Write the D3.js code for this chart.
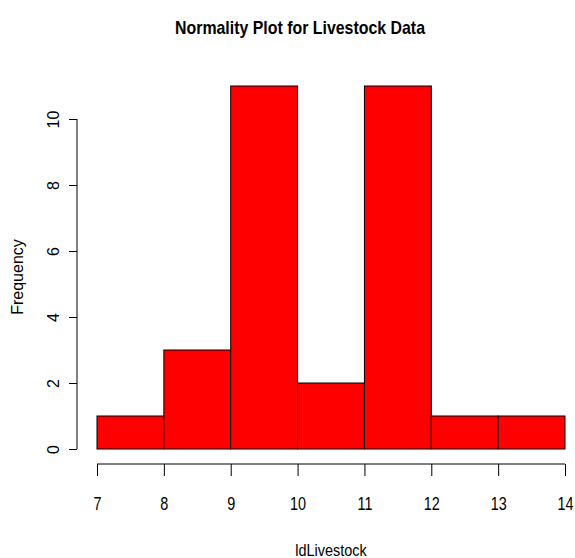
<!DOCTYPE html>
<html>
<head>
<meta charset="utf-8">
<script src="https://cdn.jsdelivr.net/npm/d3@7"></script>
<style>
  body { margin: 0; background: #fff; }
  svg { display: block; font-family: "Liberation Sans", Arial, sans-serif; }
</style>
</head>
<body>
<svg id="chart" width="575" height="558"></svg>
<script>
// histogram bins (ldLivestock) and counts
const binStarts = [7, 8, 9, 10, 11, 12, 13];
const binEnds = [8, 9, 10, 11, 12, 13, 14];
const counts = [1, 3, 11, 2, 11, 1, 1];
const xTicks = [7, 8, 9, 10, 11, 12, 13, 14];
const yTicks = [0, 2, 4, 6, 8, 10];

const svg = d3.select("#chart");
const width = 575, height = 558;

const x = d3.scaleLinear().domain([7, 14]).range([97, 565]);
const y = d3.scaleLinear().domain([0, 10]).range([449, 119]);

svg.append("rect").attr("width", width).attr("height", height).attr("fill", "#fff");

// bars
const bins = binStarts.map((s, i) => ({ x0: s, x1: binEnds[i], n: counts[i] }));
svg.append("g")
    .selectAll("rect")
    .data(bins)
    .enter()
    .append("rect")
    .attr("x", d => x(d.x0))
    .attr("y", d => y(d.n))
    .attr("width", d => x(d.x1) - x(d.x0))
    .attr("height", d => y(0) - y(d.n))
    .attr("fill", "#ff0000")
    .attr("stroke", "#000")
    .attr("stroke-width", 1);

// x axis (R style, offset below the bars)
const xAxis = d3.axisBottom(x).tickValues(xTicks).tickSize(12).tickPadding(21).tickFormat(d3.format("d"));
const gx = svg.append("g").attr("transform", "translate(0,464)").call(xAxis);
gx.select(".domain").attr("d", `M${x(7)},0H${x(14)}`).attr("stroke", "#000");
gx.selectAll("text")
    .style("font-size", "18px")
    .attr("fill", "#000")
    .attr("transform", "scale(0.8,1)"); // narrow look

// y axis
const yAxis = d3.axisLeft(y).tickValues(yTicks).tickSize(8).tickFormat(d3.format("d"));
const gy = svg.append("g").attr("transform", "translate(77,0)").call(yAxis);
gy.select(".domain").attr("d", `M0,${y(0)}V${y(10)}`).attr("stroke", "#000");
gy.selectAll(".tick text")
    .style("font-size", "16px")
    .attr("fill", "#000")
    .attr("text-anchor", "middle")
    .attr("x", 0)
    .attr("y", 0)
    .attr("dy", "0.35em")
    .attr("transform", "translate(-24,0) rotate(-90)");

// title and labels
svg.append("text")
    .attr("x", 300).attr("y", 34)
    .attr("text-anchor", "middle")
    .attr("textLength", 250)
    .attr("lengthAdjust", "spacingAndGlyphs")
    .style("font-size", "19px")
    .style("font-weight", "bold")
    .text("Normality Plot for Livestock Data");

svg.append("text")
    .attr("transform", "translate(331,556) scale(0.85,1)")
    .attr("text-anchor", "middle")
    .style("font-size", "17px")
    .text("ldLivestock");

svg.append("text")
    .attr("transform", "translate(23,277) rotate(-90)")
    .attr("text-anchor", "middle")
    .style("font-size", "16px")
    .text("Frequency");
</script>
</body>
</html>
